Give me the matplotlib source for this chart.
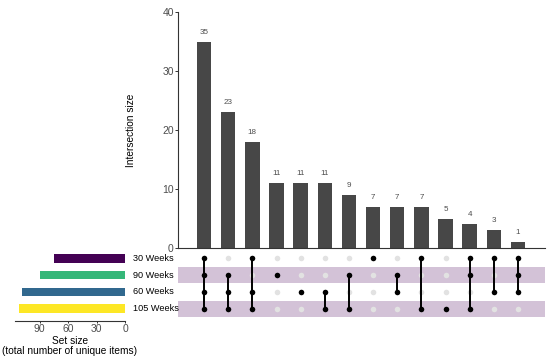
import matplotlib
matplotlib.use("Agg")
import matplotlib.pyplot as plt
from matplotlib.transforms import blended_transform_factory

plt.rcParams["font.family"] = ["Liberation Sans", "DejaVu Sans"]

# data
sets = ["30 Weeks", "90 Weeks", "60 Weeks", "105 Weeks"]
set_sizes = [75, 90, 109, 112]
set_colors = ["#440154", "#35B779", "#31688E", "#FDE725"]

inter_sizes = [35, 23, 18, 11, 11, 11, 9, 7, 7, 7, 5, 4, 3, 1]
members = [
    ["30 Weeks", "90 Weeks", "60 Weeks", "105 Weeks"],
    ["90 Weeks", "60 Weeks", "105 Weeks"],
    ["30 Weeks", "60 Weeks", "105 Weeks"],
    ["90 Weeks"],
    ["60 Weeks"],
    ["60 Weeks", "105 Weeks"],
    ["90 Weeks", "105 Weeks"],
    ["30 Weeks"],
    ["90 Weeks", "60 Weeks"],
    ["30 Weeks", "105 Weeks"],
    ["105 Weeks"],
    ["30 Weeks", "90 Weeks", "105 Weeks"],
    ["30 Weeks", "60 Weeks"],
    ["30 Weeks", "90 Weeks", "60 Weeks"],
]

tick_gray = "#4D4D4D"
bar_gray = "#474747"
shade = "#D3C2D7"

W, H = 550, 358
fig = plt.figure(figsize=(5.5, 3.58), dpi=100)

def px_axes(x0, y0, x1, y1):
    return fig.add_axes([x0 / W, 1 - y1 / H, (x1 - x0) / W, (y1 - y0) / H])

n = len(inter_sizes)
xs = list(range(n))
xlim = (-1.08, 14.12)
row_y = {s: len(sets) - 1 - i for i, s in enumerate(sets)}

# intersection bars
ax_bar = px_axes(178, 12, 545, 248)
ax_bar.bar(xs, inter_sizes, width=0.6, color=bar_gray)
for x, v in zip(xs, inter_sizes):
    ax_bar.text(x, v + 1.0, str(v), ha="center", va="bottom", fontsize=5.8, color=tick_gray)
ax_bar.set_xlim(*xlim)
ax_bar.set_ylim(0, 40)
ax_bar.set_yticks([0, 10, 20, 30, 40])
ax_bar.set_xticks([])
for s in ["top", "right"]:
    ax_bar.spines[s].set_visible(False)
for s in ["left", "bottom"]:
    ax_bar.spines[s].set_color("#333333")
    ax_bar.spines[s].set_linewidth(0.8)
ax_bar.tick_params(axis="y", labelsize=7.5, labelcolor=tick_gray, length=2, width=0.7, color="#333333", pad=1)
ax_bar.set_ylabel("Intersection size", fontsize=7.3, labelpad=19)

# matrix
ax_mat = px_axes(178, 250, 545, 317)
ax_mat.set_xlim(*xlim)
ax_mat.set_ylim(-0.5, 3.5)
for s in sets:
    if s in ("90 Weeks", "105 Weeks"):
        ax_mat.axhspan(row_y[s] - 0.48, row_y[s] + 0.48, color=shade, lw=0, zorder=0)
for x, mem in zip(xs, members):
    ys_on = [row_y[s] for s in mem]
    ys_off = [row_y[s] for s in sets if s not in mem]
    ax_mat.scatter([x] * len(ys_off), ys_off, s=16, color="#E2E2E2", zorder=2, lw=0)
    if len(ys_on) > 1:
        ax_mat.plot([x, x], [min(ys_on), max(ys_on)], color="black", lw=1.4, zorder=3)
    ax_mat.scatter([x] * len(ys_on), ys_on, s=16, color="black", zorder=4, lw=0)
ax_mat.axis("off")

trans = blended_transform_factory(fig.transFigure, ax_mat.transData)
for s in sets:
    ax_mat.text(133 / W, row_y[s], s, transform=trans, ha="left", va="center", fontsize=6.6)

# set sizes
ax_set = px_axes(15, 250, 125, 321)
ax_set.barh([row_y[s] for s in sets], set_sizes, height=0.5, color=set_colors)
ax_set.set_xlim(116, 0)
ax_set.set_ylim(-0.75, 3.5)
ax_set.set_xticks([90, 60, 30, 0])
ax_set.set_yticks([])
for s in ["top", "right", "left"]:
    ax_set.spines[s].set_visible(False)
ax_set.spines["bottom"].set_color("#333333")
ax_set.spines["bottom"].set_linewidth(0.8)
ax_set.tick_params(axis="x", labelsize=7.5, labelcolor=tick_gray, length=1.5, width=0.7, color="#333333", pad=0.5)
ax_set.set_xlabel("Set size\n(total number of unique items)", fontsize=7.3, labelpad=1.5, linespacing=1.05)

fig.savefig("out.png", dpi=100)
